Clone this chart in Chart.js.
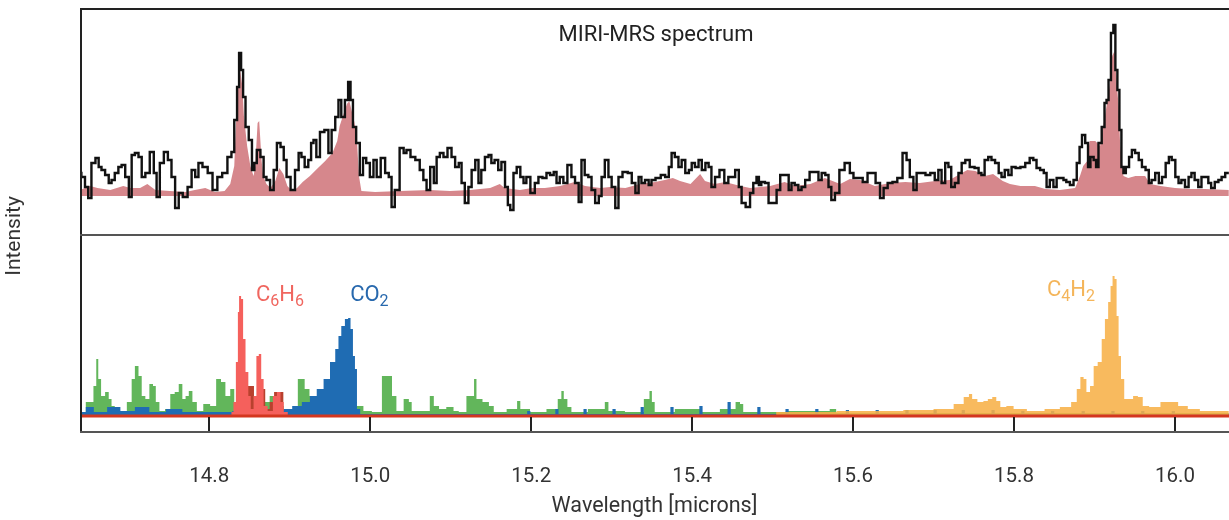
<!DOCTYPE html>
<html>
<head>
<meta charset="utf-8">
<script src="https://cdn.jsdelivr.net/npm/chart.js@4"></script>
<style>
  html, body { margin: 0; padding: 0; background: #fff; }
  #wrap { width: 1229px; height: 520px; position: relative; }
</style>
</head>
<body>
<div id="wrap"><canvas id="chart"></canvas></div>
<script>
// wavelength [microns], intensity (arbitrary units)

const xTicks = [14.8, 15.0, 15.2, 15.4, 15.6, 15.8, 16.0];

// top panel: observed MIRI-MRS spectrum (black steps)
const observed = [
    [14.639,23],[14.643,19],[14.648,9],[14.651,-2],[14.656,33],[14.661,38],[14.664,29],[14.668,26],[14.673,21],[14.677,13],
    [14.680,16],[14.685,23],[14.689,29],[14.693,31],[14.698,19],[14.702,-1],[14.705,41],[14.710,43],[14.714,39],[14.718,19],
    [14.723,23],[14.729,44],[14.733,23],[14.736,-1],[14.741,33],[14.746,44],[14.751,36],[14.755,19],[14.760,-12],[14.764,3],
    [14.770,-1],[14.776,9],[14.780,26],[14.785,19],[14.788,33],[14.795,29],[14.801,23],[14.807,6],[14.813,19],[14.819,23],
    [14.826,39],[14.829,44],[14.833,76],[14.836,109],[14.838,143],[14.841,126],[14.843,99],[14.847,69],[14.851,56],[14.855,26],
    [14.857,33],[14.861,46],[14.866,39],[14.869,19],[14.873,16],[14.878,6],[14.882,26],[14.886,53],[14.891,49],[14.894,36],
    [14.898,19],[14.904,6],[14.909,26],[14.913,43],[14.916,39],[14.921,29],[14.925,36],[14.928,53],[14.931,56],[14.935,39],
    [14.940,64],[14.946,66],[14.950,43],[14.954,66],[14.959,79],[14.962,96],[14.966,79],[14.971,96],[14.974,114],[14.977,96],
    [14.980,69],[14.985,53],[14.989,21],[14.993,38],[14.997,33],[15.002,19],[15.006,36],[15.010,19],[15.016,38],[15.021,23],
    [15.025,19],[15.028,-11],[15.033,6],[15.040,48],[15.043,43],[15.047,46],[15.053,39],[15.059,36],[15.064,26],[15.068,16],
    [15.072,6],[15.077,29],[15.081,13],[15.084,39],[15.089,43],[15.093,39],[15.099,48],[15.103,39],[15.108,29],[15.112,33],
    [15.115,13],[15.120,-7],[15.124,9],[15.128,26],[15.133,36],[15.136,13],[15.140,26],[15.145,39],[15.149,41],[15.152,33],
    [15.157,36],[15.161,26],[15.165,34],[15.170,9],[15.172,-9],[15.176,-14],[15.180,23],[15.184,29],[15.189,19],[15.192,13],
    [15.196,19],[15.202,3],[15.207,13],[15.211,19],[15.217,18],[15.221,23],[15.226,21],[15.230,24],[15.233,13],[15.238,19],
    [15.242,13],[15.248,31],[15.252,19],[15.257,13],[15.261,-6],[15.264,36],[15.269,21],[15.273,19],[15.277,6],[15.282,-7],
    [15.286,0],[15.289,19],[15.294,36],[15.298,19],[15.302,9],[15.307,-12],[15.310,19],[15.317,24],[15.323,23],[15.327,13],
    [15.332,3],[15.335,19],[15.339,13],[15.344,16],[15.348,11],[15.351,16],[15.358,18],[15.364,21],[15.369,19],[15.373,29],
    [15.376,43],[15.381,39],[15.385,29],[15.389,36],[15.394,23],[15.398,26],[15.401,33],[15.406,29],[15.410,36],[15.414,26],
    [15.419,33],[15.422,29],[15.426,9],[15.431,19],[15.437,26],[15.443,13],[15.447,19],[15.451,19],[15.456,26],[15.460,9],
    [15.463,-7],[15.470,-11],[15.474,3],[15.478,13],[15.482,19],[15.484,11],[15.488,14],[15.493,13],[15.497,-7],[15.503,-7],
    [15.507,6],[15.512,21],[15.518,21],[15.522,6],[15.525,13],[15.530,11],[15.534,6],[15.538,9],[15.543,16],[15.549,24],
    [15.555,24],[15.559,16],[15.563,23],[15.568,21],[15.571,9],[15.575,-4],[15.580,3],[15.586,26],[15.593,33],[15.599,23],
    [15.602,18],[15.609,18],[15.615,14],[15.621,23],[15.625,23],[15.631,13],[15.636,-2],[15.640,8],[15.646,13],[15.652,14],
    [15.658,18],[15.665,43],[15.668,36],[15.673,19],[15.677,6],[15.681,23],[15.687,23],[15.693,21],[15.699,23],[15.704,16],
    [15.708,26],[15.712,13],[15.717,33],[15.720,29],[15.724,9],[15.729,13],[15.733,23],[15.737,33],[15.742,36],[15.748,29],
    [15.754,28],[15.758,23],[15.761,21],[15.766,36],[15.770,39],[15.774,36],[15.779,33],[15.783,23],[15.786,19],[15.791,26],
    [15.795,21],[15.799,29],[15.805,28],[15.811,29],[15.817,33],[15.822,38],[15.826,36],[15.830,28],[15.835,26],[15.839,23],
    [15.842,9],[15.847,16],[15.851,9],[15.855,18],[15.860,18],[15.863,16],[15.867,14],[15.872,11],[15.876,16],[15.880,33],
    [15.883,49],[15.886,61],[15.891,53],[15.893,29],[15.897,39],[15.901,36],[15.903,29],[15.907,53],[15.911,69],[15.914,93],
    [15.916,96],[15.919,116],[15.922,163],[15.925,171],[15.927,126],[15.930,106],[15.932,66],[15.935,29],[15.937,23],[15.941,29],
    [15.945,39],[15.948,46],[15.953,43],[15.957,36],[15.961,29],[15.966,26],[15.969,13],[15.973,16],[15.978,23],[15.982,13],
    [15.986,19],[15.991,33],[15.994,39],[15.998,36],[16.003,19],[16.006,13],[16.010,16],[16.015,9],[16.019,19],[16.022,23],
    [16.027,16],[16.031,9],[16.035,19],[16.040,19],[16.043,13],[16.047,8],[16.052,14],[16.056,16],[16.060,19],[16.065,23],
    [16.067,23]
];

// top panel: total model (pink fill)
const model = [
    [14.639,6],[14.652,10],[14.661,8],[14.677,6],[14.693,10],[14.702,8],[14.714,8],[14.723,12],[14.733,6],[14.751,5],
    [14.770,4],[14.782,6],[14.795,8],[14.807,4],[14.819,5],[14.826,12],[14.831,30],[14.833,70],[14.836,110],[14.838,128],
    [14.841,110],[14.843,80],[14.847,50],[14.851,30],[14.855,20],[14.857,30],[14.860,73],[14.862,75],[14.865,35],[14.867,20],
    [14.871,12],[14.876,8],[14.882,15],[14.887,28],[14.892,22],[14.897,10],[14.903,5],[14.909,8],[14.916,14],[14.925,20],
    [14.935,28],[14.944,35],[14.953,43],[14.959,55],[14.962,70],[14.966,80],[14.971,92],[14.974,95],[14.977,85],[14.980,75],
    [14.983,62],[14.986,20],[14.989,5],[15.006,4],[15.037,5],[15.074,6],[15.099,5],[15.124,6],[15.149,8],[15.161,12],
    [15.167,8],[15.186,6],[15.201,8],[15.217,8],[15.236,10],[15.254,14],[15.267,10],[15.286,8],[15.298,9],[15.317,8],
    [15.335,12],[15.354,14],[15.366,16],[15.376,18],[15.385,15],[15.398,12],[15.410,22],[15.416,15],[15.428,12],[15.441,14],
    [15.460,10],[15.472,8],[15.497,10],[15.515,14],[15.528,10],[15.547,12],[15.565,18],[15.584,12],[15.596,17],[15.609,16],
    [15.627,10],[15.646,13],[15.665,14],[15.683,13],[15.702,15],[15.720,16],[15.733,22],[15.742,26],[15.752,25],[15.764,20],
    [15.774,22],[15.786,15],[15.795,12],[15.808,10],[15.826,10],[15.839,7],[15.857,6],[15.876,8],[15.882,20],[15.886,30],
    [15.891,35],[15.894,55],[15.901,55],[15.907,50],[15.911,70],[15.915,90],[15.919,110],[15.922,140],[15.925,145],[15.927,120],
    [15.930,90],[15.932,50],[15.936,20],[15.942,18],[15.951,20],[15.963,20],[15.969,12],[15.982,10],[16.000,8],[16.019,7],
    [16.037,7],[16.067,6]
];

// bottom panel: molecular contributions
const h2o = [
    [14.639,5],[14.654,15],[14.658,31],[14.661,58],[14.663,38],[14.668,21],[14.673,25],[14.677,18],[14.680,11],[14.685,6],
    [14.693,5],[14.702,15],[14.705,38],[14.710,51],[14.714,41],[14.718,21],[14.723,18],[14.728,33],[14.732,31],[14.735,15],
    [14.741,6],[14.749,8],[14.754,23],[14.760,25],[14.764,33],[14.769,18],[14.772,21],[14.777,26],[14.781,15],[14.788,6],
    [14.797,13],[14.805,11],[14.812,38],[14.817,35],[14.823,21],[14.829,28],[14.833,15],[14.838,10],[14.851,28],[14.858,15],
    [14.866,25],[14.872,15],[14.878,21],[14.888,11],[14.897,6],[14.904,8],[14.916,38],[14.921,28],[14.928,21],[14.937,10],
    [14.987,11],[14.996,6],[15.008,5],[15.021,41],[15.026,41],[15.028,21],[15.037,6],[15.046,18],[15.050,15],[15.053,6],
    [15.071,6],[15.077,21],[15.081,11],[15.090,8],[15.099,10],[15.108,6],[15.112,5],[15.127,21],[15.131,38],[15.133,18],
    [15.146,15],[15.149,11],[15.158,5],[15.181,8],[15.184,16],[15.189,8],[15.208,5],[15.230,8],[15.236,18],[15.239,26],
    [15.242,18],[15.248,10],[15.252,5],[15.289,8],[15.294,15],[15.298,6],[15.335,5],[15.345,18],[15.349,26],[15.351,15],
    [15.356,5],[15.401,8],[15.406,8],[15.418,5],[15.451,8],[15.457,15],[15.462,13],[15.465,5],[15.568,6],[15.574,8],
    [15.584,4],[16.067,4]
];

const co2 = [
    [14.639,5],[14.654,10],[14.659,5],[14.687,10],[14.692,6],[14.723,10],[14.728,5],[14.764,8],[14.769,5],[14.888,6],
    [14.897,8],[14.909,11],[14.921,15],[14.929,21],[14.938,28],[14.946,38],[14.954,55],[14.959,68],[14.962,81],[14.966,91],
    [14.971,98],[14.974,99],[14.977,88],[14.980,61],[14.982,48],[14.985,8],[14.990,3],
    [15.193,3],[15.197,6],[15.201,3],[15.228,3],[15.232,8],[15.236,3],[15.263,3],[15.267,8],[15.271,3],
    [15.299,3],[15.303,8],[15.307,3],[15.334,3],[15.338,10],[15.342,3],[15.371,3],[15.375,10],[15.379,3],
    [15.407,3],[15.411,11],[15.415,3],[15.442,3],[15.446,15],[15.450,3],[15.479,3],[15.483,10],[15.487,3],
    [15.514,3],[15.518,8],[15.522,3],[15.551,3],[15.555,8],[15.559,3],[15.589,3],[15.593,7],[15.597,3],
    [15.626,3],[15.630,7],[15.634,3],[15.663,3],[15.667,7],[15.671,3],[15.698,3],[15.702,7],[15.706,3],
    [15.733,3],[15.737,7],[15.741,3],[15.770,3],[15.774,7],[15.778,3],[15.807,3],[15.811,6],[15.815,3],
    [15.844,3],[15.848,6],[15.852,3],[15.882,3],[15.886,6],[15.890,3],[15.919,3],[15.923,6],[15.927,3],
    [15.956,3],[15.960,6],[15.964,3],[15.994,3],[15.998,6],[16.002,3],[16.067,3]
];

const otherRed = [
    [14.639,2],[14.829,2],[14.838,10],[14.847,31],[14.853,31],[14.858,12],[14.863,31],[14.867,28],[14.872,8],[14.878,15],
    [14.883,25],[14.890,25],[14.894,8],[14.901,2],[16.067,2]
];

const c6h6 = [
    [14.639,1],[14.826,1],[14.829,5],[14.831,15],[14.835,55],[14.836,105],[14.838,121],[14.841,118],[14.843,78],[14.847,45],
    [14.850,21],[14.853,8],[14.857,21],[14.860,61],[14.863,63],[14.866,38],[14.869,11],[14.876,6],[14.882,21],[14.886,25],
    [14.891,15],[14.894,5],[14.901,1],[16.067,1]
];

const c4h2 = [
    [15.484,2],[15.525,5],[15.559,5],[15.600,6],[15.642,6],[15.683,7],[15.717,8],[15.733,13],[15.742,20],[15.746,23],
    [15.750,18],[15.759,15],[15.765,16],[15.770,18],[15.776,20],[15.780,16],[15.786,10],[15.795,11],[15.804,8],[15.828,6],
    [15.848,8],[15.866,10],[15.876,15],[15.880,28],[15.885,40],[15.888,38],[15.892,25],[15.897,31],[15.901,51],[15.907,55],
    [15.911,78],[15.915,98],[15.919,115],[15.921,131],[15.924,141],[15.926,138],[15.929,101],[15.931,61],[15.935,38],[15.939,18],
    [15.945,18],[15.951,21],[15.957,20],[15.963,11],[15.973,10],[15.991,15],[15.998,15],[16.010,11],[16.022,8],[16.040,6],
    [16.067,6]
];

const pts = (arr) => arr.map(([x, y]) => ({ x, y }));

const font = (size) => `${size}px Roboto, "Liberation Sans", sans-serif`;

function drawFormula(ctx, parts, x, y, color) {
    ctx.fillStyle = color;
    ctx.textAlign = 'left';
    ctx.textBaseline = 'alphabetic';
    let cx = x;
    for (const p of parts) {
        const sub = /\d/.test(p);
        ctx.font = font(sub ? 16 : 22);
        ctx.fillText(p, cx, sub ? y + 5 : y);
        cx += ctx.measureText(p).width;
    }
}

const panelDecor = {
    id: 'panelDecor',
    afterDatasetsDraw(chart) {
        const { ctx, chartArea: a, scales } = chart;
        const x = scales.x;
        const top = scales.yTop;
        const bot = scales.yBot;
        const y0 = bot.getPixelForValue(0);
        ctx.save();

        // zero line of the lower panel
        ctx.strokeStyle = '#d4361f';
        ctx.lineWidth = 3;
        ctx.beginPath();
        ctx.moveTo(a.left, y0 - 1);
        ctx.lineTo(a.right, y0 - 1);
        ctx.stroke();

        // inward tick marks below the zero line
        ctx.strokeStyle = '#222';
        ctx.lineWidth = 2;
        xTicks.forEach((v) => {
            const px = Math.round(x.getPixelForValue(v));
            ctx.beginPath();
            ctx.moveTo(px, y0);
            ctx.lineTo(px, a.bottom);
            ctx.stroke();
        });

        // frame
        ctx.strokeStyle = '#222';
        ctx.lineWidth = 2;
        ctx.beginPath();
        ctx.moveTo(a.left + 1, a.bottom);
        ctx.lineTo(a.left + 1, a.top + 1);
        ctx.lineTo(a.right, a.top + 1);
        ctx.stroke();
        ctx.strokeStyle = '#555';
        ctx.lineWidth = 2;
        ctx.beginPath();
        ctx.moveTo(a.left, top.bottom);
        ctx.lineTo(a.right, top.bottom);
        ctx.moveTo(a.left, a.bottom - 1);
        ctx.lineTo(a.right, a.bottom - 1);
        ctx.stroke();

        // panel title
        ctx.fillStyle = '#222';
        ctx.font = font(22);
        ctx.textAlign = 'center';
        ctx.textBaseline = 'middle';
        ctx.fillText('MIRI-MRS spectrum', 656, a.top + 27);

        // y label
        ctx.save();
        ctx.translate(15, 236);
        ctx.rotate(-Math.PI / 2);
        ctx.fillStyle = '#333';
        ctx.font = font(21);
        ctx.fillText('Intensity', 0, 0);
        ctx.restore();

        // molecule labels
        drawFormula(ctx, ['C', '6', 'H', '6'], x.getPixelForValue(14.858), bot.getPixelForValue(116), '#f0665f');
        drawFormula(ctx, ['CO', '2'], x.getPixelForValue(14.975), bot.getPixelForValue(116), '#2768ad');
        drawFormula(ctx, ['C', '4', 'H', '2'], x.getPixelForValue(15.841), bot.getPixelForValue(121), '#f4b55a');

        ctx.restore();
    },
};

const fillSet = (label, data, color, order) => ({
    label,
    data: pts(data),
    yAxisID: 'yBot',
    backgroundColor: color,
    borderWidth: 0,
    fill: 'origin',
    stepped: 'middle',
    pointRadius: 0,
    order,
});

new Chart(document.getElementById('chart'), {
    type: 'line',
    data: {
        datasets: [
            {
                label: 'Observed',
                data: pts(observed),
                yAxisID: 'yTop',
                borderColor: '#111',
                borderWidth: 2.4,
                fill: false,
                stepped: 'middle',
                pointRadius: 0,
                order: 0,
            },
            {
                label: 'Model',
                data: pts(model),
                yAxisID: 'yTop',
                backgroundColor: '#d6878c',
                borderWidth: 0,
                fill: 'origin',
                tension: 0,
                pointRadius: 0,
                order: 1,
            },
            fillSet('C4H2', c4h2, 'rgba(247,176,72,0.88)', 2),
            fillSet('C6H6', c6h6, '#f5605c', 3),
            fillSet('CO2', co2, '#1f6cb3', 4),
            fillSet('other', otherRed, '#b8412e', 5),
            fillSet('H2O', h2o, '#62b65b', 6),
        ],
    },
    options: {
        responsive: true,
        maintainAspectRatio: false,
        animation: false,
        layout: { padding: { left: 80, right: 0, top: 8, bottom: 0 } },
        plugins: {
            legend: { display: false },
            tooltip: { enabled: false },
        },
        scales: {
            x: {
                type: 'linear',
                min: 14.6393,
                max: 16.0672,
                afterBuildTicks: (s) => { s.ticks = xTicks.map((v) => ({ value: v })); },
                afterFit: (s) => { s.height = 87; },
                grid: { display: false, drawTicks: false },
                border: { display: false },
                ticks: {
                    autoSkip: false,
                    maxRotation: 0,
                    padding: 32,
                    color: '#333',
                    font: { family: 'Roboto', size: 20.5 },
                    callback: (v) => Number(v).toFixed(1),
                },
                title: {
                    display: true,
                    text: 'Wavelength [microns]',
                    color: '#333',
                    font: { family: 'Roboto', size: 21.5 },
                    padding: { top: 7, bottom: 0 },
                },
            },
            yTop: {
                type: 'linear',
                position: 'left',
                stack: 'panels',
                stackWeight: 227,
                weight: 1,
                min: -39,
                max: 188,
                display: false,
            },
            yBot: {
                type: 'linear',
                position: 'left',
                stack: 'panels',
                stackWeight: 198,
                weight: 0,
                min: -16,
                max: 182,
                display: false,
            },
        },
    },
    plugins: [panelDecor],
});
</script>
</body>
</html>
